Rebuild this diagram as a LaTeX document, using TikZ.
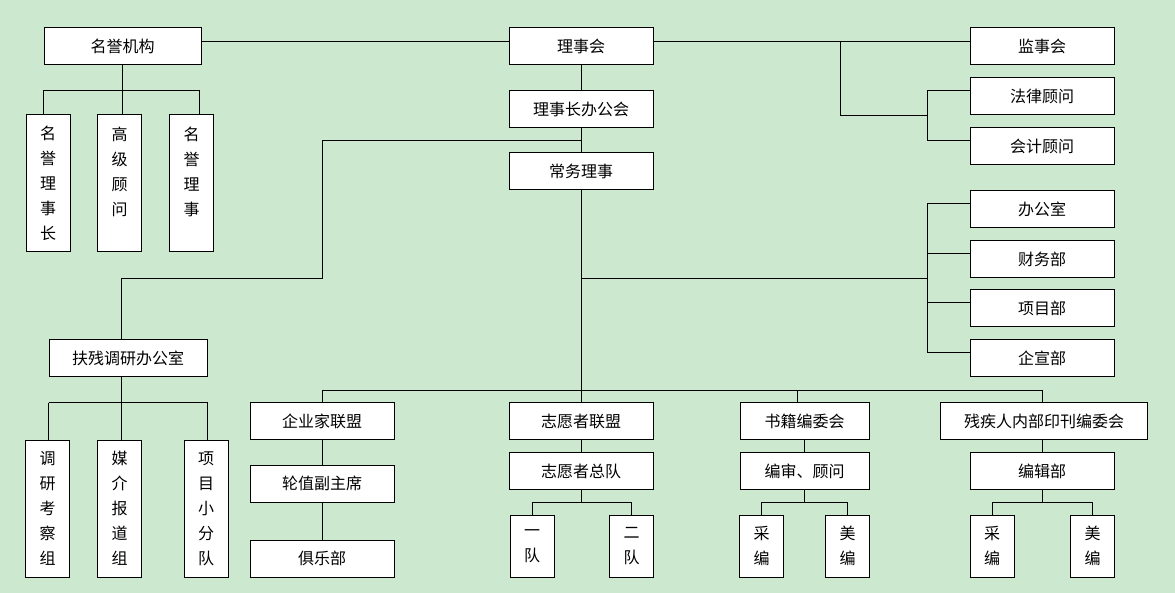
\documentclass[tikz,border=0pt]{standalone}
\usepackage{fontspec}
\newfontfamily\cjk{Noto Sans CJK SC}
\usepackage{tikz}
\usetikzlibrary{calc}
\definecolor{bggreen}{RGB}{204,232,207}
\tikzset{
	box/.style={draw, fill=white, line width=1pt, minimum width=144pt, minimum height=37pt, inner sep=0pt, font=\cjk\fontsize{16}{19}\selectfont},
	vbox/.style={box, minimum width=44pt, minimum height=137pt, align=center, font=\cjk\fontsize{16}{25}\selectfont},
	sbox/.style={vbox, minimum height=62pt},
	link/.style={line width=0.9pt}
}

\begin{document}
\begin{tikzpicture}[x=1pt, y=-1pt]
			%%%%% START %%%%%
			
			\fill[bggreen] (0, 0) rectangle (1175, 593);
			\useasboundingbox (0, 0) rectangle (1175, 593);
			
			\node[box, minimum width=157pt] (mingyu) at (122.5, 46.5) {名誉机构};
			\node[box] (lishihui) at (581, 46.5) {理事会};
			\node[box] (bangonghui) at (581, 109) {理事长办公会};
			\node[box] (changwu) at (581, 171.5) {常务理事};
			
			\node[vbox] (mylsz) at (48, 183.5) {名\\誉\\理\\事\\长};
			\node[vbox] (gjgw) at (119.5, 183.5) {高\\级\\顾\\问\\~};
			\node[vbox] (myls) at (191.5, 183.5) {名\\誉\\理\\事\\~};
			
			\node[box] (jianshi) at (1042, 46.5) {监事会};
			\node[box] (falv) at (1042, 96.5) {法律顾问};
			\node[box] (kuaiji) at (1042, 146.5) {会计顾问};
			
			\node[box] (bgs) at (1042, 209) {办公室};
			\node[box] (cwb) at (1042, 259) {财务部};
			\node[box] (xmb) at (1042, 308.5) {项目部};
			\node[box] (qxb) at (1042, 358.5) {企宣部};
			
			\node[box, minimum width=158pt] (fucan) at (128, 358.5) {扶残调研办公室};
			\node[vbox] (dykc) at (47.5, 508.5) {调\\研\\考\\察\\组};
			\node[vbox] (mjbd) at (119.5, 508.5) {媒\\介\\报\\道\\组};
			\node[vbox] (xmxf) at (206, 508.5) {项\\目\\小\\分\\队};
			
			\node[box] (qyj) at (322, 421) {企业家联盟};
			\node[box] (lunzhi) at (322, 483.5) {轮值副主席};
			\node[box] (julebu) at (322, 558.5) {俱乐部};
			
			\node[box] (zylm) at (581, 421) {志愿者联盟};
			\node[box] (zyzd) at (581, 471) {志愿者总队};
			\node[sbox] (yidui) at (532, 546) {一\\队};
			\node[sbox] (erdui) at (631.5, 546) {二\\队};
			
			\node[box, minimum width=129pt] (shuji) at (804.5, 421) {书籍编委会};
			\node[box, minimum width=129pt] (biansh) at (804.5, 471) {编审、顾问};
			\node[sbox] (caia) at (761.5, 546) {采\\编};
			\node[sbox] (meia) at (847.5, 546) {美\\编};
			
			\node[box, minimum width=206.5pt] (neikan) at (1044, 421) {残疾人内部印刊编委会};
			\node[box] (bianji) at (1042, 471) {编辑部};
			\node[sbox] (caib) at (992, 546) {采\\编};
			\node[sbox] (meib) at (1092.5, 546) {美\\编};
			
			\coordinate (jsfork) at (840, 41);
			\coordinate (gwfork) at (927, 115);
			\coordinate (bmfork) at (927, 278);
			\coordinate (fcturn) at (322, 278);
			\coordinate (dbar) at (581, 390);
			
			\draw[link] ([yshift=5.5pt]mingyu.east) -- ([yshift=5.5pt]lishihui.west);
			\draw[link] ([yshift=5.5pt]lishihui.east) -- ([yshift=5.5pt]jianshi.west);
			\draw[link] (lishihui) -- (bangonghui) -- (changwu);
			\draw[link] (changwu.south) -- (zylm.north);
			
			\draw[link] (mingyu.south) -- ++(0, 24.5) coordinate (mybar);
			\draw[link] (mingyu.west |- mybar) -- ([xshift=-2pt]mingyu.east |- mybar);
			\draw[link] (mingyu.west |- mybar) -- (mingyu.west |- mylsz.north);
			\draw[link] (mybar) -- (gjgw.north -| mybar);
			\draw[link] ([xshift=-2pt]mingyu.east |- mybar) -- ([xshift=-2pt]mingyu.east |- myls.north);
			
			\draw[link] (jsfork) |- (gwfork);
			\draw[link] ([yshift=6.5pt]falv.west) -| (gwfork) |- ([yshift=6.5pt]kuaiji.west);
			
			\draw[link] (changwu.south |- bmfork) -- (bmfork);
			\draw[link] ([yshift=6pt]bgs.west -| bmfork) -- ([yshift=6pt]qxb.west -| bmfork);
			\foreach \n in {bgs, cwb, xmb, qxb}
				\draw[link] ([yshift=6pt]\n.west) -- ([yshift=6pt]\n.west -| bmfork);
			
			\draw[link] ($(bangonghui.south)!0.5!(changwu.north)$) -| (fcturn) -| ([xshift=-7pt]fucan.north);
			\draw[link] ([xshift=-7pt]fucan.south) -- ++(0, 25) coordinate (fcbar);
			\draw[link] (fucan.west |- fcbar) -- (fucan.east |- fcbar);
			\draw[link] (fucan.west |- fcbar) -- (fucan.west |- dykc.north);
			\draw[link] (fcbar) -- (mjbd.north -| fcbar);
			\draw[link] (fucan.east |- fcbar) -- (fucan.east |- xmxf.north);
			
			\draw[link] (qyj.north) -- (qyj.north |- dbar) -- (bianji.north |- dbar) -- (bianji.north |- neikan.north);
			\draw[link] ([xshift=-7.5pt]shuji.north) -- ([xshift=-7.5pt]shuji.north |- dbar);
			\draw[link] (qyj) -- (lunzhi) -- (julebu);
			\draw[link] (zylm) -- (zyzd);
			\draw[link] (shuji) -- (biansh);
			\draw[link] (bianji.north |- neikan.south) -- (bianji.north);
			
			\draw[link] (yidui.north) -- ++(0, -12) coordinate (zybar) -| (erdui.north);
			\draw[link] (zyzd.south) -- (zyzd.south |- zybar);
			\draw[link] (caia.north) -- ++(0, -12) coordinate (sjbar) -| (meia.north);
			\draw[link] (biansh.south) -- (biansh.south |- sjbar);
			\draw[link] (caib.north) -- ++(0, -12) coordinate (bjbar) -| (meib.north);
			\draw[link] (bianji.south) -- (bianji.south |- bjbar);
			
			%%%%% END %%%%%
\end{tikzpicture}
\end{document}
